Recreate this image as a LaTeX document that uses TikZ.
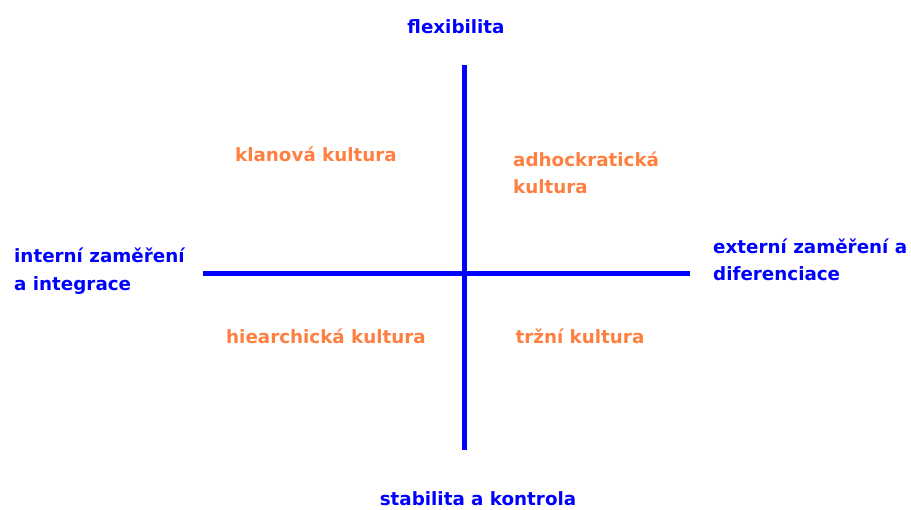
\documentclass[tikz,border=0pt]{standalone}
\usepackage{fontspec}
\setmainfont{DejaVu Sans}
\usetikzlibrary{positioning}
\definecolor{cblue}{HTML}{0000FF}
\definecolor{corange}{HTML}{FF7F40}
\tikzset{
  axisline/.style={cblue, line width=5pt},
  pole/.style={text=cblue, font=\bfseries\fontsize{18.3}{27.5}\selectfont, align=left, inner sep=0pt},
  kultura/.style={text=corange, font=\bfseries\fontsize{18.3}{27.5}\selectfont, align=left, inner sep=0pt},
}

\begin{document}
\begin{tikzpicture}[x=1pt, y=-1pt]
    \useasboundingbox (0,0) rectangle (911,510);
    % osy
    \coordinate (top) at (464,65);
    \coordinate (bot) at (464,450);
    \coordinate (lft) at (203,274);
    \coordinate (rgt) at (690,274);
    \draw[axisline] (top) -- (bot);
    \draw[axisline] (lft) -- (rgt);
    % popisky os
    \node[pole] (flex) at (456,27) {flexibilita};
    \node[pole] (stab) at (478,499) {stabilita a kontrola};
    \node[pole, anchor=west] (intern) at (14,271) {interní zaměření\\a integrace};
    \node[pole, anchor=west] (extern) at (713,260) {externí zaměření a\\diferenciace};
    % kvadranty
    \node[kultura] (klan) at (316,154) {klanová kultura};
    \node[kultura, anchor=west] (adhoc) at (513,173) {adhockratická\\kultura};
    \node[kultura] (hier) at (326,336) {hiearchická kultura};
    \node[kultura] (trh) at (580,336) {tržní kultura};
\end{tikzpicture}
\end{document}
